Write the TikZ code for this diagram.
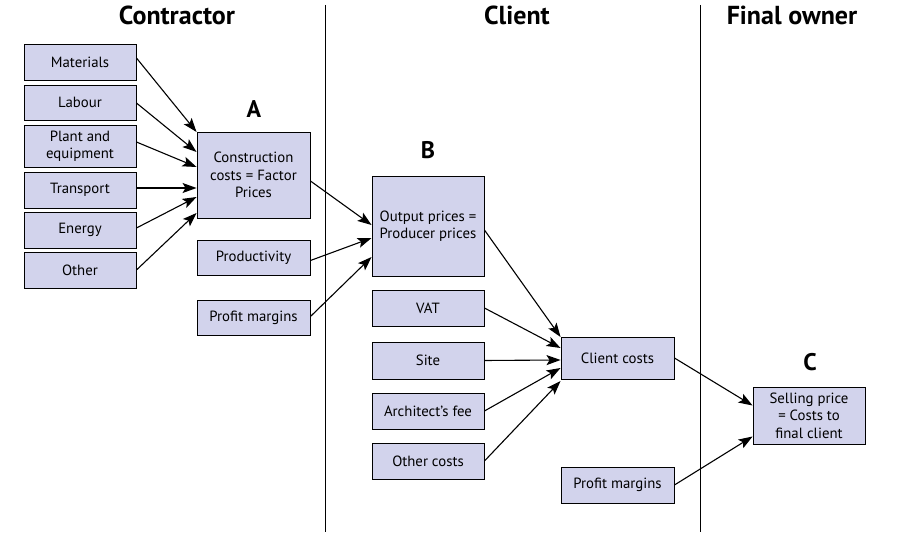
\documentclass[tikz,border=0pt]{standalone}
\usepackage{fontspec}
\setmainfont{PT Sans}
\usetikzlibrary{arrows.meta,calc}
\definecolor{boxfill}{RGB}{210,211,236}
\begin{document}
\begin{tikzpicture}[x=1pt,y=-1pt,
  box/.style={draw=black,fill=boxfill,line width=0.9pt,minimum width=112pt,align=center,inner sep=1pt,font=\fontsize{14.8}{17.5}\selectfont},
  arr/.style={-{Stealth[length=14pt,width=10pt,inset=3pt]},line width=1.1pt},
  head/.style={font=\fontsize{26}{30}\selectfont\bfseries},
  lett/.style={font=\fontsize{24}{28}\selectfont\bfseries}]
\useasboundingbox (0,0) rectangle (898,537);
\fill[white] (0,0) rectangle (898,537);
% headers
\node[head] (h1) at (177,15) {Contractor};
\node[head] (h2) at (517,15) {Client};
\node[head] (h3) at (792,15) {Final owner};
% dividers
\coordinate (v1t) at (325,5); \coordinate (v1b) at (325,532);
\coordinate (v2t) at (700,5); \coordinate (v2b) at (700,532);
\draw[line width=0.9pt] (v1t) -- (v1b);
\draw[line width=0.9pt] (v2t) -- (v2b);
% left column
\node[box,minimum height=36pt] (m) at (80,62) {Materials};
\node[box,minimum height=35pt] (l) at (80,102.5) {Labour};
\node[box,minimum height=42pt] (p) at (80,146) {Plant and\\equipment};
\node[box,minimum height=36pt] (t) at (80,190) {Transport};
\node[box,minimum height=36pt] (e) at (80,230) {Energy};
\node[box,minimum height=36pt] (o) at (80,270) {Other};
% A
\node[lett] (la) at (254,109) {A};
\node[box,minimum width=113pt,minimum height=86pt] (A) at (253.5,175) {Construction\\costs = Factor\\Prices};
\node[box,minimum width=113pt,minimum height=35pt] (prod) at (253.5,257.5) {Productivity};
\node[box,minimum width=113pt,minimum height=35pt] (pm1) at (253.5,317.5) {Profit margins};
% B
\node[lett] (lb) at (428,150) {B};
\node[box,minimum height=100pt] (B) at (428,226) {Output prices =\\Producer prices};
\node[box,minimum height=36pt] (vat) at (428,308) {VAT};
\node[box,minimum height=37pt] (site) at (428,360.5) {Site};
\node[box,minimum height=36pt] (arch) at (428,411) {Architect’s fee};
\node[box,minimum height=36pt] (oc) at (428,461) {Other costs};
\node[box,minimum width=113pt,minimum height=42pt] (cc) at (617.5,358) {Client costs};
\node[box,minimum width=113pt,minimum height=36pt] (pm2) at (617.5,485) {Profit margins};
% C
\node[lett] (lc) at (810,362) {C};
\node[box,minimum height=57pt] (C) at (809,415.5) {Selling price\\= Costs to\\final client};
% arrows into A
\draw[arr] ([yshift=4pt]m.east) -- ([yshift=43pt]A.west);
\draw[arr] ([yshift=-0.5pt]l.east) -- ([yshift=23pt]A.west);
\draw[arr] ([yshift=4pt]p.east) -- ([yshift=8pt]A.west);
\draw[arr] ([yshift=2pt]t.east) -- ([yshift=-13pt]A.west);
\draw[arr] ([yshift=2pt]e.east) -- ([yshift=-22pt]A.west);
\draw[arr] (o.east) -- ([yshift=-38pt]A.west);
% arrows into B
\draw[arr] ([yshift=-6pt]A.east) -- ([yshift=1pt]B.west);
\draw[arr] ([yshift=-3pt]prod.east) -- ([yshift=-12pt]B.west);
\draw[arr] ([yshift=1pt]pm1.east) -- ([yshift=-31pt]B.west);
% arrows into client costs
\draw[arr] ([yshift=-4pt]B.east) -- ([yshift=21pt]cc.west);
\draw[arr] (vat.east) -- ([yshift=10pt]cc.west);
\draw[arr] (site.east) -- ([yshift=-2pt]cc.west);
\draw[arr] (arch.east) -- ([yshift=-10pt]cc.west);
\draw[arr] (oc.east) -- ([yshift=-23pt]cc.west);
% arrows into C
\draw[arr] (cc.east) -- ([yshift=10pt]C.west);
\draw[arr] (pm2.east) -- ([yshift=-21pt]C.west);
\end{tikzpicture}
\end{document}
